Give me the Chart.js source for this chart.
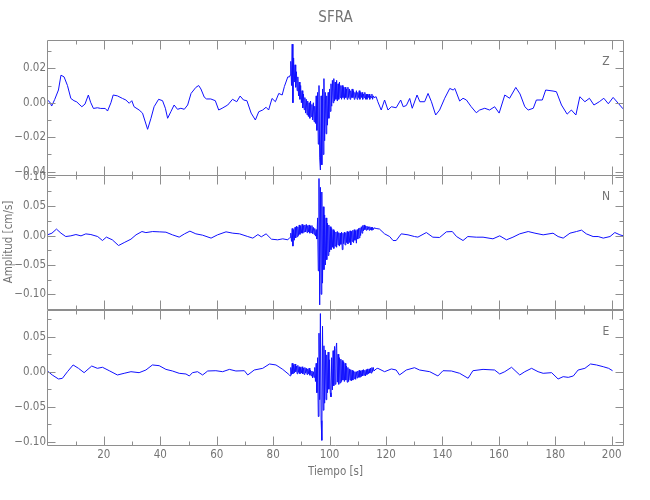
<!DOCTYPE html>
<html>
<head>
<meta charset="utf-8">
<title>SFRA</title>
<script src="https://cdn.jsdelivr.net/npm/chart.js@4/dist/chart.umd.min.js"></script>
<style>
    html, body {
        margin: 0;
        padding: 0;
        background: #ffffff;
    }

    #wrap {
        position: relative;
        width: 650px;
        height: 500px;
        overflow: hidden;
    }

    #wrap canvas {
        position: absolute;
        left: 0;
    }
</style>
</head>
<body>
<div id="wrap">
    <canvas id="zChart" width="650" height="190" style="top:0px"></canvas>
    <canvas id="nChart" width="650" height="165" style="top:160px"></canvas>
    <canvas id="eChart" width="650" height="205" style="top:295px"></canvas>
</div>

<script>
// axis ranges (seconds, cm/s)
const timeMin = 0.2;
const timeMax = 204;
const zRange = [-0.0419, 0.0364];
const nRange = [-0.125, 0.103];
const eRange = [-0.1047, 0.0881];

const panelNames = ["Z", "N", "E"];

// quiet part before the arrivals: [time, amplitude]
const zBefore = [
    [0, 0.0016], [0.8, 0.0005], [1.5, -0.0019], [2.6, 0.002], [3.9, 0.0074],
    [4.8, 0.016], [5.9, 0.015], [7.1, 0.010], [8.3, 0.0025], [9.4, 0.0012],
    [10.4, 0.0005], [11.2, -0.0008], [12.2, -0.0023], [13.3, -0.0008], [14.5, 0.0045],
    [15.3, 0.0003], [16.3, -0.0033], [17.7, -0.0029], [18.9, -0.0033], [20.5, -0.0033],
    [21.3, -0.0048], [22.5, 0.0], [23.3, 0.0045], [24.8, 0.004], [26.6, 0.0025],
    [27.8, 0.0016], [29.0, -0.0003], [29.9, 0.0012], [30.7, -0.0023], [32.5, -0.0042],
    [33.7, -0.006], [35.5, -0.0154], [36.7, -0.009], [37.8, -0.0023], [39.4, 0.002],
    [40.8, 0.0012], [41.8, -0.0032], [42.6, -0.009], [43.8, -0.005], [44.9, -0.0013],
    [46.1, -0.0038], [47.3, -0.0032], [48.5, -0.0038], [49.7, -0.0013], [50.9, 0.0054],
    [52.6, 0.0089], [53.6, 0.010], [54.4, 0.008], [55.6, 0.0032], [56.4, 0.0022],
    [57.9, 0.0022], [59.5, 0.0012], [60.7, -0.0042], [61.9, -0.0032], [63.9, -0.0013],
    [65.6, 0.002], [67.1, 0.0006], [68.3, 0.0039], [69.5, 0.0016], [70.7, 0.0012],
    [72.2, -0.006], [73.7, -0.010], [74.9, -0.0052], [76.3, -0.0042], [77.5, -0.0026],
    [78.4, -0.0042], [79.6, 0.0025], [80.8, 0.0006], [82.0, 0.0054], [83.2, 0.0045],
    [84.0, 0.0095], [85.2, 0.015], [85.8, 0.015]
];

const nBefore = [
    [0, 0.0012], [1.6, 0.004], [3.2, 0.011], [4.8, 0.004], [6.5, -0.0017],
    [8.3, -0.0005], [10.1, 0.0017], [11.9, -0.0006], [13.6, 0.0028], [15.4, 0.0017],
    [17.8, -0.0017], [19.5, -0.0085], [20.9, -0.0027], [23.0, -0.0073], [25.2, -0.017],
    [27.2, -0.012], [29.6, -0.0062], [31.4, 0.0012], [33.5, 0.0068], [34.9, 0.005],
    [37.3, 0.0068], [39.6, 0.0063], [42.0, 0.0057], [44.3, 0.0012], [46.7, -0.0027],
    [48.6, 0.0029], [50.5, 0.0075], [52.6, 0.0029], [55.0, 0.0006], [58.0, -0.0044],
    [60.3, 0.0012], [63.3, 0.0063], [65.7, 0.004], [68.1, 0.0029], [71.0, -0.0017],
    [72.8, -0.0044], [74.6, 0.0017], [75.8, -0.0022], [77.5, 0.0029], [79.4, -0.0062],
    [81.6, -0.0073], [83.4, -0.0056], [85.2, -0.0073], [85.8, -0.004]
];

const eBefore = [
    [0, 0.001], [1.7, -0.0047], [3.9, -0.0104], [5.3, -0.0095], [7.1, 0.0],
    [9.1, 0.0096], [11.0, 0.0048], [13.0, -0.0014], [15.7, 0.0081], [17.7, 0.0048],
    [19.5, 0.0063], [21.9, 0.0014], [24.8, -0.0047], [27.2, -0.0023], [29.6, 0.0],
    [32.5, -0.0014], [34.9, 0.0024], [37.2, 0.0096], [39.6, 0.0086], [42.0, 0.0033],
    [44.3, 0.001], [46.7, -0.0023], [49.1, -0.0033], [50.3, -0.0061], [51.4, -0.0014],
    [53.2, 0.0], [55.0, -0.0047], [56.8, 0.001], [59.7, 0.0014], [62.1, 0.0],
    [64.5, 0.0033], [66.8, 0.001], [69.8, 0.0014], [71.0, -0.0047], [73.3, 0.0024],
    [76.3, 0.0048], [78.7, 0.011], [81.0, 0.0096], [83.4, 0.0033], [85.8, -0.0047]
];

// dense samples through the strong shaking
const burstTimes = [
    86, 86.25, 86.5, 86.75, 87, 87.25, 87.5, 87.75, 88, 88.25,
    88.5, 88.75, 89, 89.25, 89.5, 89.75, 90, 90.25, 90.5, 90.75,
    91, 91.25, 91.5, 91.75, 92, 92.25, 92.5, 92.75, 93, 93.25,
    93.5, 93.75, 94, 94.25, 94.5, 94.75, 95, 95.25, 95.5, 95.75,
    96, 96.25, 96.5, 96.75, 97, 97.25, 97.5, 97.75, 98, 98.25,
    98.5, 98.75, 99, 99.25, 99.5, 99.75, 100, 100.25, 100.5, 100.75,
    101, 101.25, 101.5, 101.75, 102, 102.25, 102.5, 102.75, 103, 103.25,
    103.5, 103.75, 104, 104.25, 104.5, 104.75, 105, 105.25, 105.5, 105.75,
    106, 106.25, 106.5, 106.75, 107, 107.25, 107.5, 107.75, 108, 108.25,
    108.5, 108.75, 109, 109.25, 109.5, 109.75, 110, 110.25, 110.5, 110.75,
    111, 111.25, 111.5, 111.75, 112, 112.25, 112.5, 112.75, 113, 113.25,
    113.5, 113.75, 114, 114.25, 114.5, 114.75, 115, 115.25, 115.5, 115.75
];

const zBurst = [
    0.016, 0.024, 0.010, 0.034, 0.000, 0.026, 0.012, 0.022, 0.009, 0.018,
    0.007, 0.015, 0.004, 0.012, 0.002, 0.010, 0.000, 0.007, -0.003, 0.005,
    -0.004, 0.003, -0.006, 0.002, -0.007, 0.001, -0.008, 0.000, -0.009, 0.001,
    -0.008, -0.001, -0.010, 0.000, -0.011, -0.002, -0.012, 0.004, -0.016, 0.006,
    -0.024, 0.010, -0.032, -0.039, 0.004, -0.036, 0.008, -0.030, 0.014, -0.022,
    0.006, -0.018, 0.004, -0.013, 0.006, -0.009, 0.008, -0.005, 0.011, -0.002,
    0.013, 0.000, 0.014, 0.001, 0.012, 0.002, 0.013, 0.001, 0.011, 0.002,
    0.012, 0.003, 0.010, 0.002, 0.010, 0.003, 0.009, 0.002, 0.009, 0.003,
    0.008, 0.002, 0.009, 0.003, 0.008, 0.002, 0.007, 0.003, 0.008, 0.003,
    0.007, 0.002, 0.006, 0.003, 0.007, 0.002, 0.006, 0.003, 0.007, 0.002,
    0.006, 0.003, 0.006, 0.002, 0.005, 0.003, 0.006, 0.002, 0.005, 0.002,
    0.005, 0.003, 0.005, 0.002, 0.004, 0.003, 0.005, 0.002, 0.004, 0.003
];

const nBurst = [
    -0.003, 0.004, -0.010, 0.012, -0.018, 0.010, -0.008, 0.014, -0.004, 0.016,
    -0.002, 0.015, 0.000, 0.018, 0.002, 0.016, 0.004, 0.019, 0.004, 0.017,
    0.006, 0.018, 0.006, 0.019, 0.005, 0.017, 0.006, 0.018, 0.004, 0.016,
    0.005, 0.017, 0.003, 0.014, 0.002, 0.012, -0.001, 0.010, -0.006, 0.030,
    -0.060, 0.097, -0.118, 0.082, -0.100, 0.074, -0.081, 0.049, -0.058, 0.035,
    -0.050, 0.030, -0.041, 0.021, -0.034, 0.018, -0.028, 0.015, -0.024, 0.012,
    -0.020, 0.010, -0.022, 0.008, -0.018, 0.006, -0.020, 0.007, -0.016, 0.005,
    -0.018, 0.004, -0.015, 0.006, -0.024, 0.004, -0.014, 0.006, -0.016, 0.005,
    -0.012, 0.007, -0.014, 0.006, -0.012, 0.008, -0.016, 0.007, -0.010, 0.009,
    -0.012, 0.010, -0.008, 0.008, -0.013, 0.010, -0.006, 0.012, -0.004, 0.013,
    0.000, 0.015, 0.004, 0.017, 0.008, 0.018, 0.010, 0.016, 0.009, 0.016,
    0.010, 0.015, 0.009, 0.015, 0.010, 0.014, 0.009, 0.014, 0.010, 0.013
];

const eBurst = [
    -0.006, 0.006, -0.004, 0.012, -0.003, 0.010, -0.002, 0.011, 0.000, 0.008,
    -0.003, 0.009, -0.001, 0.007, -0.003, 0.006, -0.002, 0.007, -0.003, 0.005,
    -0.004, 0.006, -0.002, 0.005, -0.004, 0.004, -0.003, 0.005, -0.005, 0.002,
    -0.006, 0.001, -0.009, 0.000, -0.008, 0.006, -0.014, 0.012, -0.030, 0.020,
    -0.064, 0.055, -0.040, 0.083, -0.070, -0.098, 0.065, -0.055, 0.037, -0.045,
    0.031, -0.040, 0.024, -0.030, 0.028, -0.025, 0.017, -0.030, -0.036, 0.020,
    -0.026, 0.030, -0.020, 0.036, -0.018, 0.033, 0.041, -0.015, 0.025, -0.018,
    0.020, -0.016, 0.018, -0.014, 0.016, -0.012, 0.014, -0.014, 0.012, -0.012,
    0.008, -0.015, 0.006, -0.014, 0.004, -0.012, 0.003, -0.013, 0.002, -0.012,
    0.001, -0.010, 0.000, -0.011, 0.000, -0.009, 0.001, -0.008, 0.002, -0.008,
    0.001, -0.007, 0.002, -0.006, 0.003, -0.005, 0.002, -0.006, 0.003, -0.004,
    0.004, -0.003, 0.004, -0.002, 0.005, -0.002, 0.006, 0.000, 0.006, 0.001
];

// coda after the shaking
const zAfter = [
    [116.5, 0.0035], [117.1, 0.0006], [118.3, -0.0042], [119.5, 0.0016], [120.7, -0.0042],
    [121.9, -0.0023], [123.6, -0.0029], [125.2, 0.0016], [126.1, -0.0023], [127.2, -0.0016],
    [128.4, 0.0025], [129.3, -0.0032], [131.0, 0.0045], [132.0, 0.0006], [133.7, 0.0006],
    [134.9, 0.0054], [136.1, 0.0006], [137.6, -0.0071], [139.0, -0.0042], [140.8, 0.0026],
    [142.6, 0.0083], [143.8, 0.0074], [144.4, 0.0083], [146.1, 0.001], [147.3, 0.0026],
    [148.5, 0.0016], [150.2, -0.0023], [152.0, -0.0058], [153.2, -0.0042], [155.0, -0.0032],
    [156.7, -0.0042], [158.5, -0.0023], [160.1, -0.006], [162.1, 0.0045], [163.8, 0.0026],
    [166.0, 0.0089], [167.5, 0.0051], [169.2, -0.0023], [170.4, -0.0042], [172.2, -0.0032],
    [173.3, 0.0016], [175.4, 0.0016], [176.6, 0.0074], [179.2, 0.0068], [180.4, 0.0064],
    [182.2, -0.0013], [184.2, -0.0066], [185.7, -0.0042], [187.3, -0.0071], [188.7, 0.0035],
    [190.5, 0.0006], [192.1, 0.0026], [193.7, -0.0013], [195.6, 0.0006], [197.2, 0.0026],
    [198.8, -0.0006], [200.5, 0.0031], [202.3, -0.0003], [203.9, -0.0033], [204.2, -0.004]
];

const nAfter = [
    [116.5, 0.012], [117.7, 0.011], [119.5, 0.0029], [121.3, -0.0017], [122.5, -0.0085],
    [123.6, -0.0085], [125.4, 0.0029], [127.8, 0.0012], [130.1, -0.0017], [131.3, -0.0027],
    [134.3, 0.0051], [136.6, -0.0028], [139.0, -0.0033], [141.4, 0.0063], [143.5, 0.0068],
    [145.0, -0.0017], [147.3, -0.0085], [149.0, -0.0017], [152.0, -0.0028], [154.4, -0.0028],
    [157.9, -0.0056], [160.3, -0.0005], [162.7, -0.0073], [165.0, -0.0028], [167.4, 0.0029],
    [170.4, 0.0068], [172.8, 0.004], [175.7, 0.0012], [179.2, 0.004], [181.0, -0.0017],
    [182.8, -0.0044], [185.2, 0.004], [187.5, 0.0068], [189.3, 0.0092], [191.0, 0.0029],
    [193.4, -0.0017], [195.2, -0.0017], [197.0, -0.0044], [199.4, -0.0017], [201.1, 0.0051],
    [202.9, 0.0012], [204.1, -0.0005]
];

const eAfter = [
    [116.5, 0.004], [117.1, 0.0048], [119.5, 0.0], [121.9, 0.0039], [123.6, 0.0024],
    [124.8, -0.0047], [127.2, 0.0024], [130.1, 0.0057], [131.9, 0.0024], [135.5, 0.0],
    [138.4, -0.0061], [140.2, 0.0014], [143.2, 0.001], [146.1, -0.0023], [149.1, -0.0094],
    [150.8, 0.0014], [154.4, 0.0033], [158.5, 0.0024], [160.3, -0.0033], [162.1, 0.0],
    [164.5, 0.0063], [167.4, -0.0047], [169.2, 0.0], [171.6, 0.0048], [173.9, 0.0],
    [175.7, -0.0023], [178.7, -0.0014], [181.0, -0.0104], [182.8, -0.0071], [184.6, -0.0081],
    [186.4, -0.0061], [188.1, 0.0024], [190.5, 0.0048], [192.5, 0.011], [194.6, 0.0096],
    [197.0, 0.0071], [198.9, 0.0048], [200.3, 0.0014]
];

const textColor = "#747474";
const axisColor = "#8e8e8e";
const traceColor = "#1010ff";

Chart.defaults.font.family =
    "'Liberation Sans Narrow', 'DejaVu Sans Condensed', 'Arial Narrow', sans-serif";
Chart.defaults.color = textColor;

function buildSeries(before, burst, after) {

    const points =
        before.map(([x, y]) => ({ x, y }));

    burst.forEach((y, i) => {
        points.push({ x: burstTimes[i], y });
    });

    after.forEach(([x, y]) => {
        points.push({ x, y });
    });

    return points;
}

function formatAmp(value) {

    if (Math.abs(value) < 1e-9) {
        return "0.00";
    }

    return value
        .toFixed(2)
        .replace("-", "\u2212");
}

// frame with inward ticks on all four sides, IDL style
const framePlugin = {

    id: "frame",

    afterDraw(chart, args, opts) {

        const ctx = chart.ctx;
        const area = chart.chartArea;
        const xs = chart.scales.x;
        const ys = chart.scales.y;

        const left = Math.round(area.left) - 0.5;
        const right = Math.round(area.right) + 0.5;
        const top = Math.round(area.top) + 0.5;
        const bottom = Math.round(area.bottom) + 0.5;

        ctx.save();
        ctx.strokeStyle = axisColor;
        ctx.lineWidth = 1;

        ctx.beginPath();
        ctx.rect(left, top, right - left, bottom - top);

        // time ticks, minor every 10 s
        for (let k = 1; k * 10 <= xs.max; k++) {
            const px = Math.round(xs.getPixelForValue(k * 10)) + 0.5;
            const len = k % 2 === 0 ? 9 : 4;
            ctx.moveTo(px, bottom);
            ctx.lineTo(px, bottom - len);
            ctx.moveTo(px, top);
            ctx.lineTo(px, top + len);
        }

        // amplitude ticks
        const minor = opts.minor;
        const ratio = opts.ratio;
        const kStart = Math.ceil(ys.min / minor - 1e-6);
        const kEnd = Math.floor(ys.max / minor + 1e-6);

        for (let k = kStart; k <= kEnd; k++) {
            const py = Math.round(ys.getPixelForValue(k * minor)) + 0.5;
            const len = k % ratio === 0 ? 8 : 4;
            ctx.moveTo(left, py);
            ctx.lineTo(left + len, py);
            ctx.moveTo(right, py);
            ctx.lineTo(right - len, py);
        }

        ctx.stroke();

        // component name
        ctx.fillStyle = textColor;
        ctx.font = "12px " + Chart.defaults.font.family;
        ctx.textAlign = "center";
        ctx.textBaseline = "middle";
        ctx.fillText(opts.label, area.right - 17, area.top + 22);

        ctx.restore();
    }
};

function makeChart(canvasId, series, range, step, minor, label, extra) {

    const ctx =
        document
        .getElementById(canvasId)
        .getContext("2d");

    const showTime = extra.showTime;

    return new Chart(ctx, {

        type: "line",

        data: {
            datasets: [
                {
                    data: series,
                    borderColor: traceColor,
                    borderWidth: 1,
                    pointRadius: 0,
                    tension: 0,
                    fill: false
                }
            ]
        },

        options: {

            responsive: false,
            animation: false,
            events: [],
            parsing: false,

            layout: {
                padding: extra.padding
            },

            plugins: {
                legend: { display: false },
                tooltip: { enabled: false },
                title: extra.title || { display: false },
                frame: {
                    minor,
                    ratio: Math.round(step / minor),
                    label
                }
            },

            scales: {

                x: {
                    type: "linear",
                    min: timeMin,
                    max: timeMax,
                    display: showTime,
                    afterFit(scale) {
                        if (showTime) {
                            scale.height = 55;
                        }
                    },
                    grid: { display: false, drawTicks: false, tickLength: 0 },
                    border: { display: false },
                    ticks: {
                        stepSize: 20,
                        includeBounds: false,
                        autoSkip: false,
                        maxRotation: 0,
                        padding: 3,
                        color: textColor,
                        font: { size: 11.5 }
                    },
                    title: {
                        display: showTime,
                        text: "Tiempo [s]",
                        color: textColor,
                        font: { size: 11.5 },
                        padding: { top: 0, bottom: 21 }
                    }
                },

                y: {
                    type: "linear",
                    min: range[0],
                    max: range[1],
                    afterFit(scale) {
                        scale.width = 48;
                    },
                    grid: { display: false, drawTicks: false, tickLength: 0 },
                    border: { display: false },
                    ticks: {
                        stepSize: step,
                        includeBounds: false,
                        autoSkip: false,
                        padding: 2,
                        color: textColor,
                        font: { size: 11.5 },
                        callback: formatAmp
                    },
                    title: {
                        display: !!extra.yTitle,
                        text: extra.yTitle || "",
                        color: textColor,
                        font: { size: 11.5 },
                        padding: { top: 2, bottom: 0 }
                    }
                }
            }
        },

        plugins: [framePlugin]
    });
}

makeChart(
    "zChart",
    buildSeries(zBefore, zBurst, zAfter),
    zRange, 0.02, 0.01, panelNames[0],
    {
        showTime: false,
        padding: { top: 0, bottom: 15, left: 0, right: 27 },
        title: {
            display: true,
            text: "SFRA",
            fullSize: false,
            color: textColor,
            font: { size: 15, weight: "normal" },
            padding: { top: 9, bottom: 13 }
        }
    }
);

makeChart(
    "nChart",
    buildSeries(nBefore, nBurst, nAfter),
    nRange, 0.05, 0.025, panelNames[1],
    {
        showTime: false,
        padding: { top: 15, bottom: 16, left: 0, right: 27 },
        yTitle: "Amplitud [cm/s]"
    }
);

makeChart(
    "eChart",
    buildSeries(eBefore, eBurst, eAfter),
    eRange, 0.05, 0.025, panelNames[2],
    {
        showTime: true,
        padding: { top: 15, bottom: 0, left: 0, right: 27 }
    }
);
</script>
</body>
</html>
